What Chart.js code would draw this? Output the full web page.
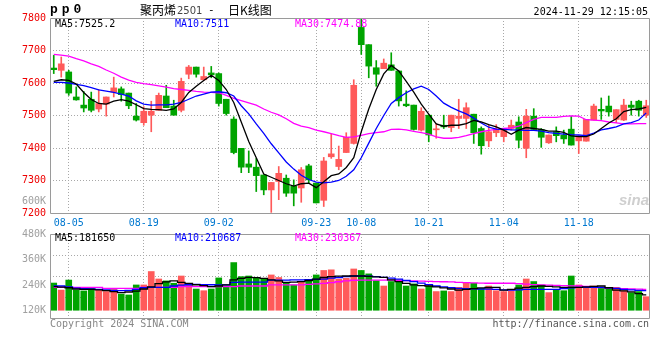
<!DOCTYPE html>
<html><head><meta charset="utf-8">
<script src="https://cdn.jsdelivr.net/npm/chart.js@4.4.1/dist/chart.umd.min.js"></script>
<style>
html,body{margin:0;padding:0;background:#fff;}
#wrap{position:relative;width:660px;height:360px;overflow:hidden;background:#fff;}
canvas{position:absolute;left:0;top:0;}
.t{position:absolute;font-family:"DejaVu Sans Mono",monospace;font-size:10px;line-height:12px;white-space:pre;}
</style></head><body>
<div id="wrap">
<canvas id="pc" width="660" height="360"></canvas>
<canvas id="vc" width="660" height="360"></canvas>
</div>
<script>
// ---------- data ----------
const dates = ['08-01','08-02','08-05','08-06','08-07','08-08','08-09','08-12','08-13','08-14','08-15','08-16','08-19','08-20','08-21','08-22','08-23','08-26','08-27','08-28','08-29','08-30',
'09-02','09-03','09-04','09-05','09-06','09-09','09-10','09-11','09-12','09-13','09-18','09-19','09-20','09-23','09-24','09-25','09-26','09-27','09-30',
'10-08','10-09','10-10','10-11','10-14','10-15','10-16','10-17','10-18','10-21','10-22','10-23','10-24','10-25','10-28','10-29','10-30','10-31',
'11-01','11-04','11-05','11-06','11-07','11-08','11-11','11-12','11-13','11-14','11-15','11-18','11-19','11-20','11-21','11-22','11-25','11-26','11-27','11-28','11-29'];
const tickDates = ['08-05','08-19','09-02','09-23','10-08','10-21','11-04','11-18'];

const open  = [7646,7639,7634,7557,7532,7550,7520,7535,7572,7582,7569,7498,7478,7501,7516,7560,7529,7516,7627,7649,7610,7631,
7629,7550,7489,7399,7351,7341,7317,7271,7297,7307,7282,7277,7345,7292,7239,7373,7343,7386,7414,
7771,7718,7647,7644,7656,7637,7535,7532,7455,7501,7456,7470,7463,7491,7491,7504,7460,7422,
7447,7435,7460,7480,7399,7498,7457,7416,7450,7440,7458,7422,7421,7486,7519,7529,7488,7486,7532,7544,7501];
const high  = [7685,7680,7639,7588,7574,7572,7580,7557,7618,7588,7569,7537,7527,7544,7569,7593,7547,7615,7654,7649,7649,7651,
7631,7550,7496,7399,7391,7368,7317,7294,7343,7317,7302,7340,7350,7292,7371,7443,7406,7447,7610,
7797,7718,7669,7674,7693,7637,7576,7532,7524,7501,7476,7501,7501,7550,7539,7504,7465,7470,
7472,7460,7486,7496,7519,7521,7460,7440,7465,7455,7498,7437,7488,7535,7554,7560,7518,7550,7544,7547,7547];
const low   = [7629,7618,7562,7547,7511,7511,7511,7498,7557,7544,7521,7483,7470,7450,7516,7524,7501,7511,7613,7618,7608,7616,
7529,7501,7382,7324,7324,7266,7256,7202,7241,7251,7222,7233,7292,7231,7220,7368,7333,7386,7412,
7688,7616,7590,7644,7639,7529,7527,7455,7452,7419,7430,7460,7450,7460,7460,7414,7381,7404,
7435,7419,7455,7401,7370,7457,7402,7414,7419,7414,7409,7383,7421,7486,7488,7498,7478,7484,7501,7498,7494];
const close = [7641,7659,7569,7548,7523,7516,7537,7557,7585,7564,7530,7486,7513,7513,7562,7524,7501,7605,7649,7627,7620,7625,
7537,7506,7386,7341,7341,7315,7271,7294,7322,7261,7261,7333,7302,7231,7360,7382,7365,7433,7593,
7718,7652,7627,7661,7639,7545,7530,7457,7513,7440,7458,7465,7501,7498,7524,7447,7407,7450,
7457,7455,7470,7424,7498,7457,7433,7440,7438,7428,7409,7437,7488,7529,7514,7511,7518,7532,7525,7516,7530];

const ma5  = [7605,7610,7608,7597,7571,7549,7537,7535,7544,7549,7544,7533,7521,7519,7518,7516,7520,7540,7571,7590,7608,7624,
7608,7580,7540,7480,7420,7370,7320,7310,7300,7290,7283,7290,7292,7278,7296,7315,7320,7340,7370,
7450,7520,7580,7628,7654,7637,7605,7572,7535,7504,7474,7467,7470,7470,7475,7485,7480,7472,
7465,7455,7442,7455,7463,7460,7457,7452,7452,7448,7437,7435,7435,7443,7460,7477,7490,7512,7518,7520,7525];
const ma10 = [7602,7602,7600,7596,7592,7586,7579,7575,7571,7566,7560,7545,7535,7532,7533,7533,7535,7540,7550,7560,7566,7572,
7573,7570,7560,7530,7505,7474,7445,7413,7385,7357,7335,7316,7303,7295,7293,7295,7300,7313,7333,
7370,7415,7460,7500,7537,7555,7570,7582,7590,7580,7560,7538,7525,7514,7505,7492,7477,7464,
7458,7457,7456,7455,7454,7454,7452,7447,7445,7443,7441,7440,7438,7446,7456,7460,7465,7474,7478,7486,7508];
const ma30 = [7688,7686,7683,7675,7668,7659,7651,7640,7630,7618,7609,7602,7598,7595,7591,7587,7583,7580,7577,7574,7572,7571,
7570,7562,7553,7546,7539,7532,7520,7510,7502,7490,7476,7467,7463,7455,7450,7444,7438,7433,7434,
7439,7444,7447,7450,7457,7458,7456,7451,7447,7443,7434,7430,7430,7433,7438,7444,7450,7454,
7457,7460,7462,7467,7478,7488,7494,7494,7494,7497,7499,7498,7487,7486,7484,7480,7477,7474,7474,7475,7475];

const volume = [250000,217000,264000,217000,213000,230000,217000,210000,220000,198000,194000,241000,241000,304000,269000,260000,249000,283000,246000,222000,214000,222000,
274000,236000,346000,280000,283000,277000,268000,288000,276000,250000,241000,257000,264000,288000,309000,312000,268000,272000,316000,
309000,293000,261000,236000,257000,264000,236000,246000,222000,236000,210000,213000,210000,230000,252000,249000,225000,236000,
214000,210000,214000,241000,269000,257000,241000,205000,217000,214000,283000,241000,230000,236000,228000,222000,230000,214000,205000,210000,186000];
const volMa5  = [233000,231000,228000,222000,220000,220000,218000,214000,210000,205000,208000,212000,222000,232000,247000,255000,260000,253000,248000,242000,238000,233000,
236000,241000,265000,272000,277000,275000,272000,265000,260000,253000,254000,257000,262000,268000,276000,280000,282000,283000,283000,
283000,281000,279000,277000,265000,257000,248000,241000,238000,236000,232000,227000,222000,217000,220000,224000,227000,229000,
230000,217000,220000,226000,230000,233000,236000,234000,232000,230000,230000,230000,232000,234000,236000,228000,217000,213000,209000,200000,194000];
const volMa10 = [236000,236000,232000,226000,224000,222000,220000,218000,216000,214000,216000,220000,228000,230000,230000,230000,236000,240000,242000,244000,243000,242000,
241000,241000,253000,254000,254000,254000,254000,264000,264000,264000,265000,265000,266000,267000,268000,273000,276000,280000,283000,
283000,282000,280000,277000,273000,268000,262000,257000,250000,243000,236000,232000,228000,225000,224000,223000,222000,221000,
220000,218000,217000,218000,220000,220000,220000,220000,220000,224000,228000,230000,230000,230000,230000,228000,225000,220000,218000,216000,214000];
const volMa30 = [230000,230000,230000,230000,230000,230000,230000,225000,225000,225000,225000,225000,230000,230000,230000,230000,230000,233000,233000,233000,233000,233000,
233000,233000,233000,236000,236000,236000,236000,241000,241000,241000,241000,241000,244000,246000,248000,252000,256000,260000,263000,
264000,264000,264000,264000,264000,263000,261000,260000,259000,258000,257000,256000,255000,253000,252000,251000,250000,249000,
249000,249000,249000,247000,245000,243000,241000,240000,239000,238000,237000,236000,234000,232000,229000,226000,225000,224000,222000,221000,220000];

const priceRange = [7200, 7800];
const volTickValues = [120000, 240000, 360000, 480000];
const volRange = [86000, 480000];

const symbolText = 'pp0';
const titleParts = ['聚丙烯', '2501', '-', '日K线图'];
const stampText = '2024-11-29 12:15:05';
const priceMaLabels = ['MA5:7525.2', 'MA10:7511', 'MA30:7474.88'];
const volMaLabels = ['MA5:181650', 'MA10:210687', 'MA30:230367'];
const extraVolLabel = '600K';
const copyrightText = 'Copyright 2024 SINA.COM';
const urlText = 'http://finance.sina.com.cn';
const watermarkText = 'sina';

// ---------- styles ----------
const UP = '#ff5a5a', DOWN = '#00a400';
const GRID = '#a8a8a8', FRAME = '#9a9a9a';
const MA_COLORS = ['#000000', '#0000ff', '#ff00ff'];
const mono = {family: 'DejaVu Sans Mono', size: 10};
const candleColors = close.map((c, i) => c >= open[i] ? UP : DOWN);

const framePlugin = {
  id: 'frame',
  afterDraw(chart) {
    const {ctx, chartArea: a} = chart;
    ctx.save();
    ctx.strokeStyle = FRAME; ctx.lineWidth = 1;
    ctx.beginPath();
    ctx.moveTo(a.left + 0.5, a.top + 0.5);
    ctx.lineTo(a.right - 0.5, a.top + 0.5);
    ctx.lineTo(a.right - 0.5, a.bottom + 0.5);
    ctx.lineTo(a.left + 0.5, a.bottom + 0.5);
    ctx.closePath();
    ctx.stroke();
    ctx.restore();
  }
};

const isDateTick = c => c.tick && tickDates.includes(dates[c.tick.value]);
const lineDs = (data, color, order, width, extra) => Object.assign({type: 'line', data, borderColor: color, borderWidth: width, pointRadius: 0, tension: 0, order}, extra || {});

// ---------- price chart ----------
new Chart(document.getElementById('pc'), {
  type: 'bar',
  data: {
    labels: dates,
    datasets: [
      lineDs(ma5, MA_COLORS[0], 0, 1.3),
      lineDs(ma10, MA_COLORS[1], 1, 1.3),
      lineDs(ma30, MA_COLORS[2], 2, 1.3),
      {data: open.map((o, i) => [o, close[i]]), backgroundColor: candleColors, barThickness: 6, minBarLength: 1, grouped: false, order: 3},
      {data: low.map((l, i) => [l, high[i]]), backgroundColor: candleColors, barThickness: 1, grouped: false, order: 4}
    ]
  },
  options: {
    responsive: false, animation: false, events: [],
    layout: {padding: {left: 0, right: 10, top: 18, bottom: 128}},
    plugins: {legend: {display: false}, tooltip: {enabled: false}},
    scales: {
      x: {
        offset: true,
        grid: {offset: false, color: c => isDateTick(c) ? GRID : 'transparent', tickColor: c => isDateTick(c) ? GRID : 'transparent', tickLength: 3, tickBorderDash: [1, 2]},
        border: {display: false, dash: [1, 2]},
        ticks: {autoSkip: false, maxRotation: 0, minRotation: 0, color: '#0078d0', font: mono, padding: 1,
          callback: (v, i) => tickDates.includes(dates[i]) ? dates[i] : ''},
        afterFit: s => { s.height = 19; }
      },
      y: {
        min: priceRange[0], max: priceRange[1],
        ticks: {stepSize: 100, autoSkip: false, color: '#ee0000', font: mono, padding: 4, callback: v => String(v)},
        grid: {color: c => (c.tick.value > priceRange[0] && c.tick.value < priceRange[1]) ? GRID : 'transparent', drawTicks: false},
        border: {display: false, dash: [1, 2]},
        afterFit: s => { s.width = 50; }
      }
    }
  },
  plugins: [framePlugin]
});

// ---------- volume chart ----------
const volGridLines = [1, 2, 3].map(k => volRange[0] + k * (volRange[1] - volRange[0]) / 4);
new Chart(document.getElementById('vc'), {
  type: 'bar',
  data: {
    labels: dates,
    datasets: [
      lineDs(volMa5, MA_COLORS[0], 0, 1.3, {stepped: 'middle'}),
      lineDs(volMa10, MA_COLORS[1], 1, 1.3, {stepped: 'middle'}),
      lineDs(volMa30, MA_COLORS[2], 2, 1.3, {stepped: 'middle'}),
      {data: volume, backgroundColor: candleColors, barThickness: 6, base: volTickValues[0], order: 3}
    ]
  },
  options: {
    responsive: false, animation: false, events: [],
    layout: {padding: {left: 0, right: 10, top: 234, bottom: 42}},
    plugins: {legend: {display: false}, tooltip: {enabled: false}},
    scales: {
      x: {
        offset: true,
        grid: {offset: false, color: c => isDateTick(c) ? GRID : 'transparent', tickColor: c => isDateTick(c) ? GRID : 'transparent', tickLength: 3, tickBorderDash: [1, 2]},
        border: {display: false, dash: [1, 2]},
        ticks: {display: false, autoSkip: false},
        afterFit: s => { s.height = 0; }
      },
      y: {
        min: volRange[0], max: volRange[1],
        afterBuildTicks: s => {
          const vals = [volRange[0], ...volTickValues, ...volGridLines].sort((a, b) => a - b);
          s.ticks = vals.map(v => ({value: v}));
        },
        ticks: {autoSkip: false, color: '#a0a0a0', font: mono, padding: 4,
          callback: v => volTickValues.includes(v) ? (v / 1000) + 'K' : ''},
        grid: {color: c => volGridLines.includes(c.tick.value) ? GRID : 'transparent', drawTicks: false},
        border: {display: false, dash: [1, 2]},
        afterFit: s => { s.width = 50; }
      }
    }
  },
  plugins: [framePlugin]
});

// ---------- text overlays ----------
const wrap = document.getElementById('wrap');
function addText(txt, css) {
  const d = document.createElement('div');
  d.className = 't';
  d.textContent = txt;
  Object.assign(d.style, css);
  wrap.appendChild(d);
  return d;
}
addText(symbolText, {left: '50px', top: '3px', fontFamily: '"Liberation Mono",monospace', fontWeight: 'bold', fontSize: '13px', lineHeight: '14px', letterSpacing: '4px', color: '#000'});
addText(titleParts[0], {left: '140px', top: '3px', fontFamily: '"Noto Sans CJK SC",sans-serif', fontSize: '12px', lineHeight: '14px', color: '#000'});
addText(titleParts[1], {left: '177px', top: '4px', fontFamily: '"DejaVu Sans",sans-serif', fontSize: '10px', lineHeight: '14px', color: '#444'});
addText(titleParts[2], {left: '208px', top: '3px', fontFamily: '"DejaVu Sans Mono",monospace', fontSize: '11px', lineHeight: '14px', color: '#000'});
addText(titleParts[3], {left: '228px', top: '3px', fontFamily: '"Noto Sans CJK SC",sans-serif', fontSize: '12px', lineHeight: '14px', color: '#000'});
addText(stampText, {right: '12px', top: '6px', color: '#000'});
const maLeft = [55, 175, 295];
priceMaLabels.forEach((t, i) => addText(t, {left: maLeft[i] + 'px', top: '18px', color: MA_COLORS[i]}));
volMaLabels.forEach((t, i) => addText(t, {left: maLeft[i] + 'px', top: '232px', color: MA_COLORS[i]}));
addText(extraVolLabel, {right: '614px', top: '195px', color: '#a0a0a0'});
addText(copyrightText, {left: '50px', top: '318px', color: '#888'});
addText(urlText, {right: '11px', top: '318px', color: '#555'});
addText(watermarkText, {left: '619px', top: '192px', fontFamily: '"Liberation Sans",sans-serif', fontStyle: 'italic', fontWeight: 'bold', fontSize: '15px', lineHeight: '16px', color: '#cfcfcf'});
</script>
</body></html>
